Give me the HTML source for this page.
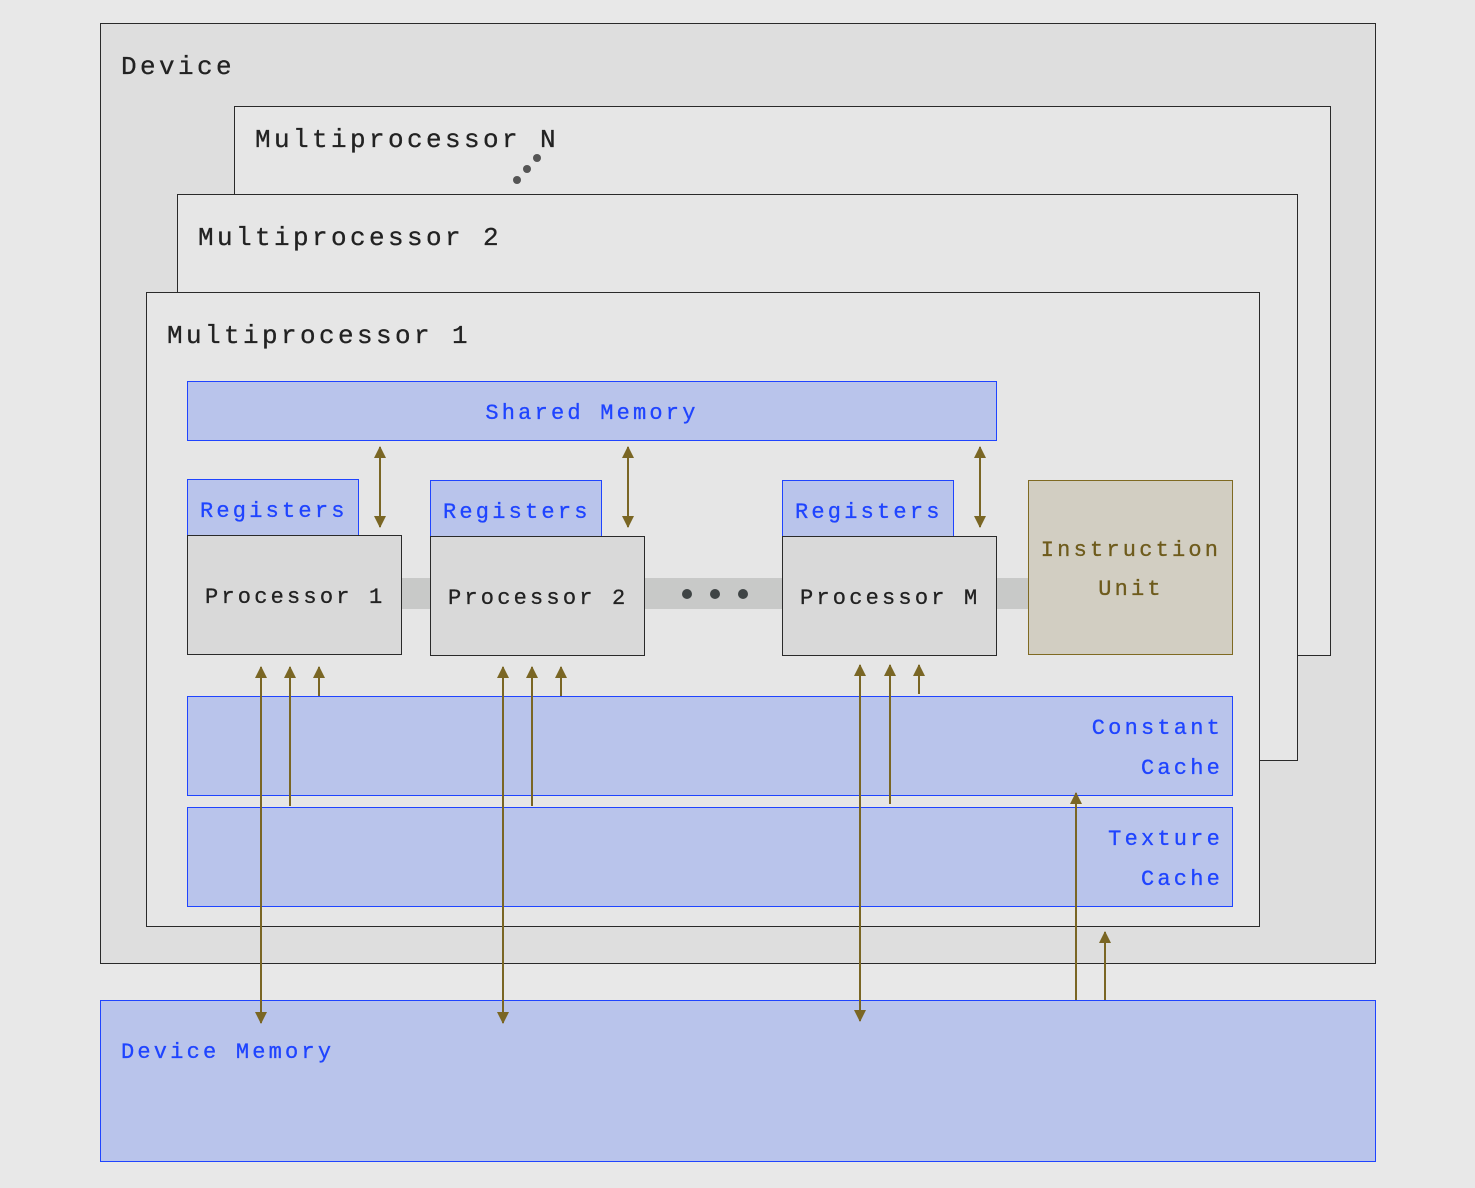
<!DOCTYPE html>
<html><head><meta charset="utf-8"><style>
html,body{margin:0;padding:0;background:#e8e8e8;}
svg{display:block;}
text{font-family:"Liberation Mono","DejaVu Sans Mono",monospace;stroke-width:0.3;}
</style></head><body>
<svg width="1475" height="1188" viewBox="0 0 1475 1188" xmlns="http://www.w3.org/2000/svg">
<defs>
<marker id="a" viewBox="0 0 12 12" refX="11" refY="6" markerWidth="12" markerHeight="12" orient="auto-start-reverse" markerUnits="userSpaceOnUse">
<path d="M0,0 L12,6 L0,12 z" fill="#7a6624"/>
</marker>
</defs>
<rect x="0" y="0" width="1475" height="1188" fill="#e8e8e8"/>
<rect x="100.5" y="23.5" width="1275" height="940" fill="#dedede" stroke="#2a2a2a" stroke-width="1"/>
<text x="121" y="74" font-size="26" letter-spacing="3.4" fill="#222" stroke="#222">Device</text>
<rect x="234.5" y="106.5" width="1096" height="549" fill="#e6e6e6" stroke="#2a2a2a"/>
<text x="255" y="147" font-size="26" letter-spacing="3.4" fill="#222" stroke="#222">Multiprocessor N</text>
<circle cx="517" cy="180" r="4" fill="#555"/><circle cx="527" cy="169" r="4" fill="#555"/><circle cx="537" cy="158" r="4" fill="#555"/>
<rect x="177.5" y="194.5" width="1120" height="566" fill="#e6e6e6" stroke="#2a2a2a"/>
<text x="198" y="245" font-size="26" letter-spacing="3.4" fill="#222" stroke="#222">Multiprocessor 2</text>
<rect x="146.5" y="292.5" width="1113" height="634" fill="#e6e6e6" stroke="#2a2a2a"/>
<text x="167" y="343" font-size="26" letter-spacing="3.4" fill="#222" stroke="#222">Multiprocessor 1</text>

<rect x="187.5" y="381.5" width="809" height="59" fill="#b9c4eb" stroke="#1f44ff"/>
<text x="592" y="419" font-size="22" letter-spacing="3.2" fill="#1f44ff" stroke="#1f44ff" text-anchor="middle">Shared Memory</text>

<rect x="401" y="578" width="627" height="31" fill="#c8c9c8"/>
<circle cx="687" cy="594" r="5" fill="#3f4445"/><circle cx="715" cy="594" r="5" fill="#3f4445"/><circle cx="743" cy="594" r="5" fill="#3f4445"/>

<rect x="187.5" y="479.5" width="171" height="56" fill="#b9c4eb" stroke="#1f44ff"/>
<text x="200" y="517" font-size="22" letter-spacing="3.2" fill="#1f44ff" stroke="#1f44ff">Registers</text>
<rect x="187.5" y="535.5" width="214" height="119" fill="#d9d9d9" stroke="#2a2a2a"/>
<text x="205" y="603" font-size="22" letter-spacing="3.2" fill="#222" stroke="#222">Processor 1</text>

<rect x="430.5" y="480.5" width="171" height="56" fill="#b9c4eb" stroke="#1f44ff"/>
<text x="443" y="518" font-size="22" letter-spacing="3.2" fill="#1f44ff" stroke="#1f44ff">Registers</text>
<rect x="430.5" y="536.5" width="214" height="119" fill="#d9d9d9" stroke="#2a2a2a"/>
<text x="448" y="604" font-size="22" letter-spacing="3.2" fill="#222" stroke="#222">Processor 2</text>

<rect x="782.5" y="480.5" width="171" height="56" fill="#b9c4eb" stroke="#1f44ff"/>
<text x="795" y="518" font-size="22" letter-spacing="3.2" fill="#1f44ff" stroke="#1f44ff">Registers</text>
<rect x="782.5" y="536.5" width="214" height="119" fill="#d9d9d9" stroke="#2a2a2a"/>
<text x="800" y="604" font-size="22" letter-spacing="3.2" fill="#222" stroke="#222">Processor M</text>

<rect x="1028.5" y="480.5" width="204" height="174" fill="#d2cec2" stroke="#7f6a22"/>
<text x="1131" y="556" font-size="22" letter-spacing="3.2" fill="#6e5b1c" stroke="#6e5b1c" text-anchor="middle">Instruction</text>
<text x="1131" y="595" font-size="22" letter-spacing="3.2" fill="#6e5b1c" stroke="#6e5b1c" text-anchor="middle">Unit</text>

<rect x="187.5" y="696.5" width="1045" height="99" fill="#b9c4eb" stroke="#1f44ff"/>
<text x="1223" y="734" font-size="22" letter-spacing="3.2" fill="#1f44ff" stroke="#1f44ff" text-anchor="end">Constant</text>
<text x="1223" y="774" font-size="22" letter-spacing="3.2" fill="#1f44ff" stroke="#1f44ff" text-anchor="end">Cache</text>
<rect x="187.5" y="807.5" width="1045" height="99" fill="#b9c4eb" stroke="#1f44ff"/>
<text x="1223" y="845" font-size="22" letter-spacing="3.2" fill="#1f44ff" stroke="#1f44ff" text-anchor="end">Texture</text>
<text x="1223" y="885" font-size="22" letter-spacing="3.2" fill="#1f44ff" stroke="#1f44ff" text-anchor="end">Cache</text>

<rect x="100.5" y="1000.5" width="1275" height="161" fill="#b9c4eb" stroke="#1f44ff"/>
<text x="121" y="1058" font-size="22" letter-spacing="3.2" fill="#1f44ff" stroke="#1f44ff">Device Memory</text>

<g stroke="#7a6624" stroke-width="2" fill="none">
<line x1="380" y1="447" x2="380" y2="527" marker-start="url(#a)" marker-end="url(#a)"/>
<line x1="628" y1="447" x2="628" y2="527" marker-start="url(#a)" marker-end="url(#a)"/>
<line x1="980" y1="447" x2="980" y2="527" marker-start="url(#a)" marker-end="url(#a)"/>

<line x1="261" y1="667" x2="261" y2="1023" marker-start="url(#a)" marker-end="url(#a)"/>
<line x1="290" y1="806" x2="290" y2="667" marker-end="url(#a)"/>
<line x1="319" y1="696" x2="319" y2="667" marker-end="url(#a)"/>

<line x1="503" y1="667" x2="503" y2="1023" marker-start="url(#a)" marker-end="url(#a)"/>
<line x1="532" y1="806" x2="532" y2="667" marker-end="url(#a)"/>
<line x1="561" y1="696" x2="561" y2="667" marker-end="url(#a)"/>

<line x1="860" y1="665" x2="860" y2="1021" marker-start="url(#a)" marker-end="url(#a)"/>
<line x1="890" y1="804" x2="890" y2="665" marker-end="url(#a)"/>
<line x1="919" y1="694" x2="919" y2="665" marker-end="url(#a)"/>

<line x1="1076" y1="1000" x2="1076" y2="793" marker-end="url(#a)"/>
<line x1="1105" y1="1000" x2="1105" y2="932" marker-end="url(#a)"/>
</g>
</svg>
</body></html>
